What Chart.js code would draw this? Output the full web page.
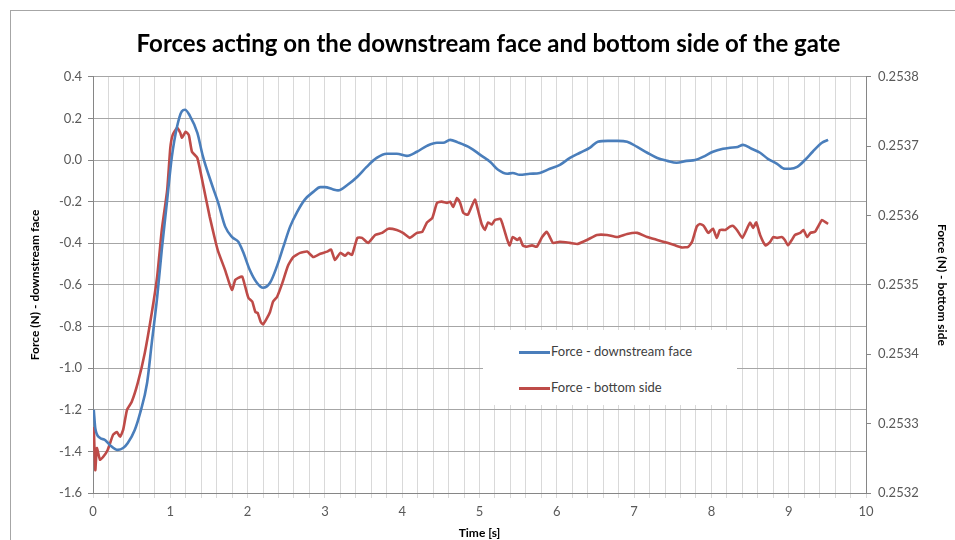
<!DOCTYPE html>
<html>
<head>
<meta charset="utf-8">
<script src="https://cdn.jsdelivr.net/npm/chart.js@4.4.1/dist/chart.umd.min.js"></script>
<style>
  body { margin: 0; background: #fff; }
  #wrap { position: relative; width: 955px; height: 540px; overflow: hidden; }
  #frame { position: absolute; left: 10px; top: 10px; width: 1000px; height: 600px; border: 1px solid #a6a6a6; }
  #myChart { position: absolute; left: 0; top: 0; }
  #legend { position: absolute; left: 483px; top: 330px; width: 254px; height: 75px; background: #fff;
            font: 13px Lato, sans-serif; color: #404040; }
  .item { position: absolute; left: 36px; height: 16px; line-height: 16px; white-space: nowrap; }
  .item i { display: inline-block; width: 31px; height: 3px; vertical-align: middle; margin-right: 1px; }
</style>
</head>
<body>
<div id="wrap">
  <div id="frame"></div>
  <canvas id="myChart" width="955" height="540"></canvas>
  <div id="legend"></div>
</div>
<script>
// 讀圖估計的資料
const seriesNames = ['Force - downstream face', 'Force - bottom side'];

const downTime = [0.01, 0.03, 0.09, 0.155, 0.22, 0.32, 0.39, 0.45, 0.54, 0.61, 0.70, 0.76, 0.83, 0.89, 0.96,
    1.02, 1.09, 1.15, 1.19, 1.25, 1.35, 1.42, 1.54, 1.62, 1.71, 1.80, 1.88, 1.94, 2.03, 2.12, 2.20, 2.29, 2.38,
    2.46, 2.55, 2.64, 2.74, 2.85, 2.94, 3.00, 3.10, 3.17, 3.29, 3.42, 3.54, 3.67, 3.80, 3.93, 4.06, 4.19, 4.32,
    4.45, 4.53, 4.62, 4.72, 4.88, 5.01, 5.14, 5.24, 5.36, 5.43, 5.52, 5.65, 5.78, 5.91, 6.04, 6.17, 6.30, 6.43,
    6.53, 6.66, 6.79, 6.91, 7.04, 7.17, 7.30, 7.43, 7.55, 7.68, 7.79, 7.89, 8.02, 8.15, 8.24, 8.34, 8.41, 8.52,
    8.63, 8.73, 8.85, 8.95, 9.02, 9.11, 9.21, 9.31, 9.43, 9.51];
const downForce = [-1.20, -1.29, -1.335, -1.345, -1.37, -1.393, -1.384, -1.36, -1.297, -1.215, -1.07, -0.88,
    -0.66, -0.43, -0.19, 0.015, 0.165, 0.235, 0.242, 0.215, 0.13, 0.02, -0.12, -0.206, -0.32, -0.37, -0.393,
    -0.44, -0.53, -0.59, -0.614, -0.59, -0.51, -0.42, -0.32, -0.25, -0.19, -0.153, -0.13, -0.13, -0.14, -0.146,
    -0.12, -0.08, -0.033, 0.01, 0.03, 0.03, 0.02, 0.04, 0.068, 0.083, 0.083, 0.097, 0.085, 0.059, 0.025,
    -0.009, -0.047, -0.066, -0.062, -0.071, -0.066, -0.062, -0.042, -0.023, 0.01, 0.035, 0.06, 0.088, 0.092,
    0.092, 0.088, 0.063, 0.035, 0.01, -0.004, -0.013, -0.004, 0.0, 0.015, 0.04, 0.054, 0.059, 0.063, 0.073,
    0.054, 0.035, 0.006, -0.018, -0.042, -0.042, -0.033, 0.0, 0.04, 0.083, 0.097];

const bottomTime = [0.01, 0.03, 0.05, 0.09, 0.13, 0.19, 0.26, 0.31, 0.35, 0.39, 0.44, 0.50, 0.58, 0.67, 0.76,
    0.83, 0.89, 0.96, 1.00, 1.03, 1.09, 1.13, 1.15, 1.20, 1.24, 1.28, 1.35, 1.42, 1.51, 1.58, 1.62, 1.71, 1.77,
    1.80, 1.84, 1.88, 1.93, 1.97, 2.01, 2.06, 2.10, 2.13, 2.17, 2.20, 2.25, 2.29, 2.33, 2.38, 2.45, 2.52, 2.59,
    2.68, 2.77, 2.85, 2.94, 3.03, 3.08, 3.13, 3.20, 3.26, 3.30, 3.35, 3.42, 3.48, 3.56, 3.65, 3.74, 3.82, 3.93,
    4.01, 4.10, 4.19, 4.26, 4.32, 4.39, 4.45, 4.51, 4.58, 4.62, 4.66, 4.71, 4.75, 4.79, 4.85, 4.94, 4.98, 5.03,
    5.07, 5.11, 5.16, 5.20, 5.27, 5.30, 5.36, 5.39, 5.43, 5.49, 5.52, 5.56, 5.61, 5.68, 5.74, 5.81, 5.87, 5.91,
    5.95, 6.04, 6.17, 6.27, 6.39, 6.52, 6.65, 6.78, 6.91, 7.04, 7.17, 7.30, 7.43, 7.53, 7.62, 7.70, 7.75, 7.81,
    7.85, 7.90, 7.96, 8.02, 8.07, 8.11, 8.18, 8.24, 8.28, 8.33, 8.40, 8.46, 8.50, 8.54, 8.58, 8.63, 8.70, 8.76,
    8.80, 8.85, 8.91, 8.95, 8.99, 9.04, 9.08, 9.15, 9.19, 9.24, 9.28, 9.34, 9.38, 9.43, 9.47, 9.51];
const bottomForce = [0.2532951, 0.2532330, 0.2532648, 0.2532480, 0.2532519, 0.2532621, 0.2532840, 0.2532879,
    0.2532810, 0.2532909, 0.2533200, 0.2533311, 0.2533590, 0.2534019, 0.2534595, 0.2535120, 0.2535792,
    0.2536371, 0.2536974, 0.2537160, 0.2537265, 0.2537190, 0.2537121, 0.2537208, 0.2537160, 0.2536920,
    0.2536830, 0.2536470, 0.2535981, 0.2535648, 0.2535480, 0.2535210, 0.2535000, 0.2534928, 0.2535072,
    0.2535102, 0.2535120, 0.2534970, 0.2534814, 0.2534760, 0.2534610, 0.2534595, 0.2534466, 0.2534430,
    0.2534520, 0.2534610, 0.2534760, 0.2534826, 0.2535030, 0.2535270, 0.2535402, 0.2535462, 0.2535480,
    0.2535402, 0.2535450, 0.2535480, 0.2535510, 0.2535360, 0.2535462, 0.2535420, 0.2535462, 0.2535432,
    0.2535678, 0.2535678, 0.2535606, 0.2535720, 0.2535750, 0.2535810, 0.2535792, 0.2535750, 0.2535678,
    0.2535750, 0.2535765, 0.2535900, 0.2535966, 0.2536182, 0.2536200, 0.2536182, 0.2536200, 0.2536125,
    0.2536254, 0.2536182, 0.2536038, 0.2536011, 0.2536230, 0.2536080, 0.2535870, 0.2535792, 0.2535900,
    0.2535870, 0.2535936, 0.2535951, 0.2535870, 0.2535648, 0.2535570, 0.2535690, 0.2535648, 0.2535678,
    0.2535570, 0.2535549, 0.2535570, 0.2535549, 0.2535690, 0.2535765, 0.2535690, 0.2535606, 0.2535621,
    0.2535606, 0.2535591, 0.2535648, 0.2535720, 0.2535720, 0.2535690, 0.2535735, 0.2535750, 0.2535690,
    0.2535648, 0.2535606, 0.2535570, 0.2535540, 0.2535549, 0.2535621, 0.2535840, 0.2535879, 0.2535852,
    0.2535750, 0.2535810, 0.2535678, 0.2535792, 0.2535792, 0.2535840, 0.2535852, 0.2535792, 0.2535678,
    0.2535810, 0.2535900, 0.2535822, 0.2535900, 0.2535720, 0.2535570, 0.2535621, 0.2535690, 0.2535678,
    0.2535690, 0.2535648, 0.2535570, 0.2535648, 0.2535720, 0.2535750, 0.2535792, 0.2535690, 0.2535750,
    0.2535765, 0.2535840, 0.2535936, 0.2535909, 0.2535879];

const colors = ['#4a7ebb', '#be4b48'];

const toPoints = (xs, ys) => xs.map((x, i) => ({ x, y: ys[i] }));

Chart.defaults.font.family = 'Lato';
Chart.defaults.color = '#595959';

new Chart(document.getElementById('myChart'), {
    type: 'line',
    data: {
        datasets: [
            { label: seriesNames[0], data: toPoints(downTime, downForce), borderColor: colors[0],
              borderWidth: 2.6, pointRadius: 0, cubicInterpolationMode: 'monotone', yAxisID: 'y' },
            { label: seriesNames[1], data: toPoints(bottomTime, bottomForce), borderColor: colors[1],
              borderWidth: 2.6, pointRadius: 0, tension: 0.15, yAxisID: 'y1' }
        ]
    },
    options: {
        responsive: false,
        animation: false,
        layout: { padding: { left: 24, right: 2, top: 0, bottom: 0 } },
        plugins: {
            legend: { display: false },
            tooltip: { enabled: false },
            title: {
                display: true,
                text: 'Forces acting on the downstream face and bottom side of the gate',
                color: '#000',
                font: { size: 24, weight: 'bold' },
                padding: { top: 30, bottom: 18 }
            }
        },
        scales: {
            x: {
                type: 'linear', min: 0, max: 10,
                afterFit: s => { s.height = 47; },
                ticks: {
                    stepSize: 0.2, autoSkip: false, maxRotation: 0, padding: 6,
                    font: { size: 13 },
                    callback: v => Math.abs(v - Math.round(v)) < 1e-6 ? String(Math.round(v)) : ''
                },
                grid: { color: '#d9d9d9', tickLength: 5, tickColor: '#d9d9d9' },
                border: { color: '#868686' },
                title: { display: true, text: 'Time [s]', color: '#000', font: { size: 12, weight: 'bold' },
                         padding: { top: 0, bottom: 0 } }
            },
            y: {
                position: 'left', min: -1.6, max: 0.4,
                afterFit: s => { s.width = 69; },
                ticks: { stepSize: 0.2, padding: 6, font: { size: 13 },
                         callback: v => Math.abs(v) < 1e-9 ? '0.0' : v.toFixed(1) },
                grid: { color: '#a6a6a6', tickLength: 5, tickColor: '#868686' },
                border: { color: '#868686' },
                title: { display: true, text: 'Force (N) - downstream face', color: '#000',
                         font: { size: 12, weight: 'bold' } }
            },
            y1: {
                position: 'right', min: 0.2532, max: 0.2538,
                afterFit: s => { s.width = 87; },
                ticks: { stepSize: 0.0001, padding: 7, font: { size: 13 }, callback: v => v.toFixed(4) },
                grid: { drawOnChartArea: false, tickLength: 5, tickColor: '#868686' },
                border: { color: '#868686' },
                title: { display: true, text: 'Force (N) - bottom side', color: '#000',
                         font: { size: 12, weight: 'bold' } }
            }
        }
    }
});

// 圖例
const legend = document.getElementById('legend');
seriesNames.forEach((name, i) => {
    const el = document.createElement('div');
    el.className = 'item';
    el.style.top = (13 + i * 36) + 'px';
    el.innerHTML = `<i style="background:${colors[i]}"></i>${name}`;
    legend.appendChild(el);
});
</script>
</body>
</html>
